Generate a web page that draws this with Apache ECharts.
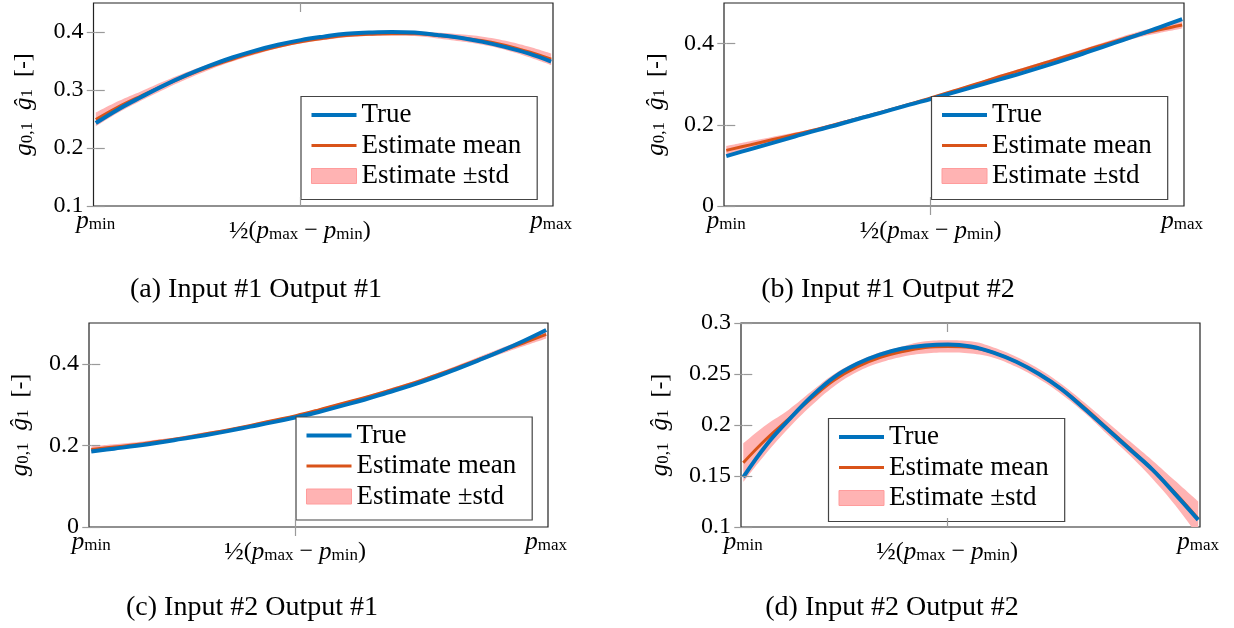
<!DOCTYPE html>
<html><head><meta charset="utf-8">
<script src="https://cdn.jsdelivr.net/npm/echarts@6/dist/echarts.min.js"></script>
<style>html,body{margin:0;padding:0;background:#fff}#c{width:1234px;height:628px}</style>
</head><body><div id="c"></div>
<script>
// ---------- data ----------
const xPos = [0, 0.05, 0.1, 0.15, 0.2, 0.25, 0.3, 0.35, 0.4, 0.45, 0.5, 0.55, 0.6, 0.65, 0.7, 0.75, 0.8, 0.85, 0.9, 0.95, 1];

const trueA = [0.243, 0.267, 0.288, 0.308, 0.326, 0.342, 0.356, 0.368, 0.378, 0.386, 0.392, 0.397, 0.399, 0.400, 0.399, 0.395, 0.390, 0.383, 0.374, 0.363, 0.349];
const meanA = [0.249, 0.271, 0.290, 0.308, 0.325, 0.340, 0.353, 0.365, 0.375, 0.383, 0.389, 0.394, 0.396, 0.397, 0.397, 0.394, 0.390, 0.385, 0.377, 0.366, 0.353];
const stdA  = [0.012, 0.010, 0.008, 0.007, 0.006, 0.005, 0.004, 0.004, 0.003, 0.003, 0.003, 0.003, 0.003, 0.003, 0.004, 0.005, 0.006, 0.007, 0.008, 0.009, 0.010];

const trueB = [0.123, 0.139, 0.155, 0.171, 0.187, 0.202, 0.218, 0.233, 0.249, 0.264, 0.280, 0.296, 0.312, 0.328, 0.345, 0.363, 0.382, 0.401, 0.420, 0.440, 0.460];
const meanB = [0.137, 0.150, 0.163, 0.176, 0.189, 0.204, 0.219, 0.234, 0.250, 0.267, 0.284, 0.301, 0.319, 0.336, 0.353, 0.370, 0.388, 0.405, 0.421, 0.434, 0.446];
const stdB  = [0.011, 0.009, 0.007, 0.005, 0.004, 0.004, 0.003, 0.003, 0.003, 0.003, 0.003, 0.003, 0.004, 0.004, 0.004, 0.005, 0.005, 0.006, 0.007, 0.008, 0.009];

const trueC = [0.185, 0.192, 0.199, 0.207, 0.216, 0.225, 0.235, 0.246, 0.257, 0.269, 0.282, 0.297, 0.312, 0.329, 0.346, 0.365, 0.386, 0.408, 0.431, 0.456, 0.483];
const meanC = [0.190, 0.196, 0.202, 0.210, 0.218, 0.228, 0.238, 0.249, 0.261, 0.273, 0.287, 0.302, 0.317, 0.333, 0.350, 0.369, 0.389, 0.410, 0.431, 0.451, 0.472];
const stdC  = [0.008, 0.007, 0.006, 0.005, 0.004, 0.004, 0.003, 0.003, 0.003, 0.003, 0.003, 0.003, 0.003, 0.004, 0.004, 0.004, 0.005, 0.006, 0.007, 0.008, 0.010];

const trueD = [0.149, 0.180, 0.205, 0.228, 0.247, 0.260, 0.269, 0.275, 0.278, 0.279, 0.277, 0.271, 0.262, 0.250, 0.235, 0.216, 0.196, 0.176, 0.156, 0.132, 0.107];
const meanD = [0.163, 0.186, 0.206, 0.226, 0.244, 0.257, 0.266, 0.272, 0.276, 0.277, 0.276, 0.271, 0.262, 0.250, 0.235, 0.217, 0.197, 0.177, 0.156, 0.133, 0.108];
const stdD  = [0.019, 0.014, 0.009, 0.007, 0.006, 0.005, 0.005, 0.005, 0.006, 0.006, 0.006, 0.005, 0.005, 0.005, 0.005, 0.005, 0.006, 0.007, 0.009, 0.012, 0.017];

const yTicksA = [0.1, 0.2, 0.3, 0.4];
const yTicksB = [0, 0.2, 0.4];
const yTicksC = [0, 0.2, 0.4];
const yTicksD = [0.1, 0.15, 0.2, 0.25, 0.3];
const yRangeA = [0.1, 0.45];
const yRangeB = [0, 0.5];
const yRangeC = [0, 0.5];
const yRangeD = [0.1, 0.3];

const xTickVals = [0, 0.448, 1];
const xTickLabels = ['{i|p}{s|min}', '{mf|½}{mn|(}{mi|p}{ms|max}{mn| − }{mi|p}{ms|min}{mn|)}', '{i|p}{s|max}'];
const yName = '{i|g}{s|0,1}  {i|ĝ}{s|1}  {n|[-]}';
const legendNames = ['True', 'Estimate mean', 'Estimate ±std'];
const captions = ['(a) Input #1 Output #1', '(b) Input #1 Output #2', '(c) Input #2 Output #1', '(d) Input #2 Output #2'];

// ---------- layout / style ----------
const F = 'Liberation Serif';
const BLUE = '#0072BD', ORANGE = '#D95319', PINK = '#ffb3b3';
const panels = [
  {t: trueA, m: meanA, s: stdA, yt: yTicksA, yr: yRangeA, g: [93.5, 3, 459.5, 203], ng: 57, lg: [301, 96.5], cap: [256, 290]},
  {t: trueB, m: meanB, s: stdB, yt: yTicksB, yr: yRangeB, g: [724, 3, 460, 203], ng: 55, lg: [931.5, 96.5], cap: [888, 290]},
  {t: trueC, m: meanC, s: stdC, yt: yTicksC, yr: yRangeC, g: [89, 323, 459, 204], ng: 56, lg: [296, 417], cap: [252, 608]},
  {t: trueD, m: meanD, s: stdD, yt: yTicksD, yr: yRangeD, g: [741, 323, 459, 204], ng: 68, lg: [828.5, 418.5], cap: [892, 608]}
];

const rich = {
  i: {fontFamily: F, fontStyle: 'italic', fontSize: 25, color: '#000'},
  s: {fontFamily: F, fontSize: 17, color: '#000', padding: [7, 0, 0, 0]},
  n: {fontFamily: F, fontSize: 24, color: '#000'},
  mi: {fontFamily: F, fontStyle: 'italic', fontSize: 25, color: '#000', padding: [9, 0, 0, 0]},
  ms: {fontFamily: F, fontSize: 17, color: '#000', padding: [16, 0, 0, 0]},
  mn: {fontFamily: F, fontSize: 24, color: '#000', padding: [9, 0, 0, 0]},
  mf: {fontFamily: F, fontSize: 26, color: '#000', padding: [9, 0, 0, 0]}
};

const fmtY = v => String(parseFloat((+v).toFixed(2)));
const lineIcon = h => 'path://M0,0 M45,15 M0,' + (7.5 - h / 2) + ' L45,' + (7.5 - h / 2) + ' L45,' + (7.5 + h / 2) + ' L0,' + (7.5 + h / 2) + ' Z';

const option = {animation: false, grid: [], xAxis: [], yAxis: [], series: [], legend: [], graphic: []};

panels.forEach((p, k) => {
  option.grid.push({left: p.g[0], top: p.g[1], width: p.g[2], height: p.g[3], show: true,
    borderColor: '#222', borderWidth: 1.2, backgroundColor: 'rgba(0,0,0,0)'});
  const tick = {show: true, inside: true, length: 9, lineStyle: {color: '#9a9a9a', width: 1.2}};
  option.xAxis.push({type: 'value', gridIndex: k, min: -0.005, max: 1.004, position: 'bottom', z: 5,
    axisLine: {show: false}, splitLine: {show: false},
    axisTick: Object.assign({customValues: [xTickVals[1]]}, tick),
    axisLabel: {show: true, customValues: xTickVals, margin: 3, rich: rich,
      formatter: v => xTickLabels[xTickVals.indexOf(v)] || ''}});
  option.xAxis.push({type: 'value', gridIndex: k, min: -0.005, max: 1.004, position: 'top', z: 5,
    axisLine: {show: false}, splitLine: {show: false},
    axisTick: Object.assign({customValues: [xTickVals[1]]}, tick), axisLabel: {show: false}});
  option.yAxis.push({type: 'value', gridIndex: k, min: p.yr[0], max: p.yr[1], position: 'left', z: 5,
    axisLine: {show: false}, splitLine: {show: false},
    axisTick: Object.assign({customValues: p.yt}, tick),
    axisLabel: {customValues: p.yt, formatter: fmtY, margin: 10, fontFamily: F, fontSize: 24, color: '#000'},
    name: yName, nameLocation: 'middle', nameRotate: 90, nameGap: p.ng,
    nameTextStyle: {rich: rich, fontFamily: F, fontSize: 24, color: '#000'}});
  option.yAxis.push({type: 'value', gridIndex: k, min: p.yr[0], max: p.yr[1], position: 'right', z: 5,
    axisLine: {show: false}, splitLine: {show: false},
    axisTick: Object.assign({customValues: p.yt}, tick), axisLabel: {show: false}});

  const xi = 2 * k, yi = 2 * k;
  const base = {type: 'line', xAxisIndex: xi, yAxisIndex: yi, symbol: 'none', smooth: 0.4, silent: true, clip: true};
  // band: value stored first so that the stack is applied to the y dimension
  const lo = xPos.map((x, j) => [p.m[j] - p.s[j], x]);
  const wid = xPos.map((x, j) => [2 * p.s[j], x]);
  option.series.push(Object.assign({}, base, {name: 'band-lower-' + k, data: lo, encode: {x: 1, y: 0},
    stack: 'band' + k, lineStyle: {width: 0, opacity: 0}, z: 1}));
  option.series.push(Object.assign({}, base, {name: legendNames[2], data: wid, encode: {x: 1, y: 0},
    stack: 'band' + k, lineStyle: {width: 0, opacity: 0}, itemStyle: {color: PINK},
    areaStyle: {color: PINK, opacity: 1}, z: 1}));
  option.series.push(Object.assign({}, base, {name: legendNames[1], data: xPos.map((x, j) => [x, p.m[j]]),
    lineStyle: {color: ORANGE, width: 3}, itemStyle: {color: ORANGE}, z: 2}));
  option.series.push(Object.assign({}, base, {name: legendNames[0], data: xPos.map((x, j) => [x, p.t[j]]),
    lineStyle: {color: BLUE, width: 4}, itemStyle: {color: BLUE}, z: 3}));

  option.legend.push({orient: 'vertical', left: p.lg[0], top: p.lg[1], padding: [5, 16, 10, 10],
    itemGap: 3.5, itemWidth: 45, itemHeight: 15, selectedMode: false,
    borderColor: '#444', borderWidth: 1.2, backgroundColor: '#fff', borderRadius: 0,
    textStyle: {fontFamily: F, fontSize: 27, lineHeight: 27, color: '#000'},
    data: [
      {name: legendNames[0], icon: lineIcon(4), itemStyle: {color: BLUE, borderWidth: 0}},
      {name: legendNames[1], icon: lineIcon(3), itemStyle: {color: ORANGE, borderWidth: 0}},
      {name: legendNames[2], icon: 'rect', itemStyle: {color: PINK, borderColor: '#ff9c9c', borderWidth: 1}}
    ]});

  option.graphic.push({type: 'text', x: p.cap[0], y: p.cap[1], silent: true,
    style: {text: captions[k], fontFamily: F, fontSize: 28, fill: '#000', align: 'center', verticalAlign: 'middle'}});
});

const chart = echarts.init(document.getElementById('c'), null, {renderer: 'canvas'});
chart.setOption(option);
</script>
</body></html>
